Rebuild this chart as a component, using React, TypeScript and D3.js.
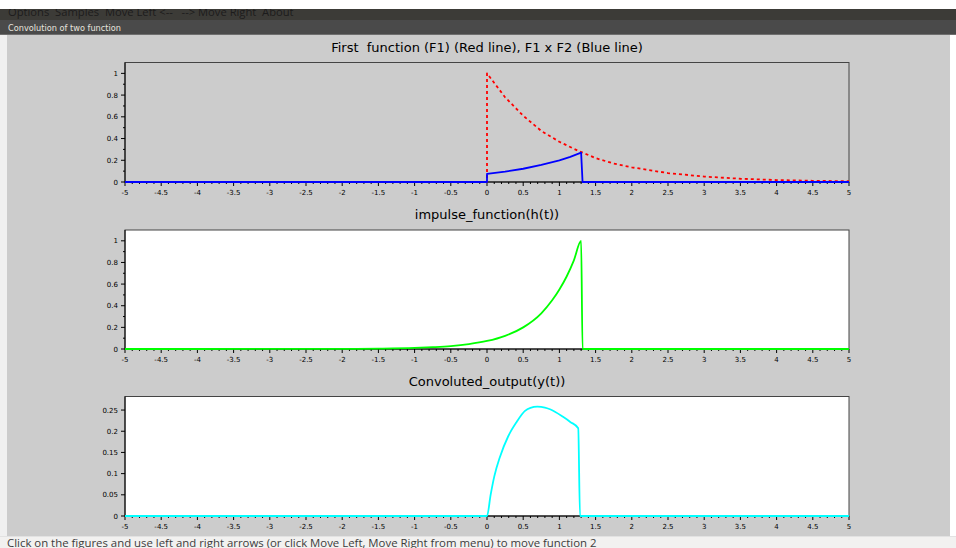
import React from "react";
import * as d3 from "d3";

// Shared time axis
const xTicks = [-5, -4.5, -4, -3.5, -3, -2.5, -2, -1.5, -1, -0.5, 0, 0.5, 1, 1.5, 2, 2.5, 3, 3.5, 4, 4.5, 5];
const xTickLabels = ["-5", "-4.5", "-4", "-3.5", "-3", "-2.5", "-2", "-1.5", "-1", "-0.5", "0", "0.5", "1", "1.5", "2", "2.5", "3", "3.5", "4", "4.5", "5"];

// Y ticks for each panel
const yTicksUnit = [0, 0.2, 0.4, 0.6, 0.8, 1];
const yTickLabelsUnit = ["0", "0.2", "0.4", "0.6", "0.8", "1"];
const yTicksConv = [0, 0.05, 0.1, 0.15, 0.2, 0.25];
const yTickLabelsConv = ["0", "0.05", "0.1", "0.15", "0.2", "0.25"];

// First function F1 (red dotted)
const f1T = [-5, 0, 0, 0.25, 0.5, 0.75, 1, 1.25, 1.5, 1.75, 2, 2.5, 3, 3.5, 4, 4.5, 5];
const f1V = [0, 0, 1, 0.78, 0.61, 0.47, 0.37, 0.29, 0.22, 0.17, 0.135, 0.082, 0.05, 0.03, 0.018, 0.011, 0.007];

// Product F1 x F2 (blue)
const prodT = [-5, 0, 0, 0.25, 0.5, 0.75, 1, 1.15, 1.3, 1.32, 5];
const prodV = [0, 0, 0.074, 0.095, 0.122, 0.157, 0.2, 0.232, 0.27, 0, 0];

// Impulse function h(t) (green)
const impT = [-5, -3, -2.5, -2, -1.5, -1, -0.75, -0.5, -0.25, 0, 0.25, 0.5, 0.75, 0.9, 1.0, 1.1, 1.2, 1.3, 1.32, 5];
const impV = [0, 0.0003, 0.0007, 0.0014, 0.0037, 0.01, 0.017, 0.027, 0.045, 0.074, 0.122, 0.2, 0.33, 0.45, 0.55, 0.67, 0.82, 1.0, 0, 0];

// Convoluted output y(t) (cyan)
const convT = [-5, 0, 0.05, 0.1, 0.18, 0.29, 0.41, 0.525, 0.6, 0.695, 0.8, 0.87, 1.05, 1.15, 1.26, 1.285, 5];
const convV = [0, 0, 0.05, 0.093, 0.14, 0.187, 0.222, 0.248, 0.255, 0.258, 0.256, 0.252, 0.234, 0.222, 0.207, 0, 0];

const W = 956;
const H = 548;
const PLOT_LEFT = 125;
const PLOT_RIGHT = 849;
const AXIS_FONT = "DejaVu Sans";

type Series = { t: number[]; v: number[]; color: string; dash?: string; width: number; smooth?: boolean };

type PanelProps = {
  title: string;
  top: number;
  bottom: number;
  yMax: number;
  yTicks: number[];
  yLabels: string[];
  yMinor: number[];
  bg: string;
  series: Series[];
};

function Panel({ title, top, bottom, yMax, yTicks, yLabels, yMinor, bg, series }: PanelProps) {
  const x = d3.scaleLinear().domain([-5, 5]).range([PLOT_LEFT, PLOT_RIGHT]);
  const y = d3.scaleLinear().domain([0, yMax]).range([bottom, top]);
  const xMinor = d3.range(-50, 51).map((i) => i / 10).filter((v) => Math.abs(Math.round(v * 2) - v * 2) > 1e-6);

  return (
    <g>
      <text
        x={(PLOT_LEFT + PLOT_RIGHT) / 2}
        y={top - 11}
        textAnchor="middle"
        fontFamily={AXIS_FONT}
        fontSize={13}
        fill="#000"
        style={{ whiteSpace: "pre" }}
      >
        {title}
      </text>
      <rect x={PLOT_LEFT} y={top} width={PLOT_RIGHT - PLOT_LEFT} height={bottom - top} fill={bg} stroke="#444" strokeWidth={1} />
      {/* x axis ticks */}
      {xTicks.map((v, i) => (
        <g key={"xt" + i}>
          <line x1={x(v)} x2={x(v)} y1={bottom} y2={bottom + 4} stroke="#000" strokeWidth={1} />
          <text x={x(v)} y={bottom + 13} textAnchor="middle" fontFamily={AXIS_FONT} fontSize={7} fill="#000">
            {xTickLabels[i]}
          </text>
        </g>
      ))}
      {xMinor.map((v, i) => (
        <line key={"xm" + i} x1={x(v)} x2={x(v)} y1={bottom} y2={bottom + 2} stroke="#000" strokeWidth={1} />
      ))}
      {/* y axis ticks */}
      {yTicks.map((v, i) => (
        <g key={"yt" + i}>
          <line x1={PLOT_LEFT - 4} x2={PLOT_LEFT} y1={y(v)} y2={y(v)} stroke="#000" strokeWidth={1} />
          <text x={PLOT_LEFT - 7} y={y(v) + 2.5} textAnchor="end" fontFamily={AXIS_FONT} fontSize={7} fill="#000">
            {yLabels[i]}
          </text>
        </g>
      ))}
      {yMinor.map((v, i) => (
        <line key={"ym" + i} x1={PLOT_LEFT - 2} x2={PLOT_LEFT} y1={y(v)} y2={y(v)} stroke="#000" strokeWidth={1} />
      ))}
      <line x1={PLOT_LEFT} x2={PLOT_LEFT} y1={top} y2={bottom} stroke="#000" strokeWidth={1} />
      <line x1={PLOT_LEFT} x2={PLOT_RIGHT} y1={bottom} y2={bottom} stroke="#000" strokeWidth={1} />
      {series.map((s, k) => {
        const pts = s.t.map((t, i) => [t, s.v[i]] as [number, number]);
        const gen = d3
          .line<[number, number]>()
          .x((d) => x(d[0]))
          .y((d) => y(d[1]))
          .curve(s.smooth ? d3.curveMonotoneX : d3.curveLinear);
        return (
          <path
            key={"s" + k}
            d={gen(pts) || ""}
            fill="none"
            stroke={s.color}
            strokeWidth={s.width}
            strokeDasharray={s.dash}
            strokeLinejoin="round"
          />
        );
      })}
    </g>
  );
}

export default function App() {
  return (
    <div style={{ position: "fixed", left: 0, top: 0, width: W, height: H }}>
      <svg width={W} height={H} viewBox={`0 0 ${W} ${H}`} style={{ display: "block" }}>
        <rect x={0} y={0} width={W} height={H} fill="#ffffff" />
        <defs>
          <clipPath id="menuClip">
            <rect x={0} y={9} width={W} height={11} />
          </clipPath>
        </defs>
        {/* window menu bar */}
        <rect x={0} y={9} width={W} height={11} fill="#3c3b37" />
        <text
          x={8}
          y={15.5}
          fontFamily="Open Sans"
          fontSize={11.2}
          fill="#1c1c1c"
          clipPath="url(#menuClip)"
          style={{ whiteSpace: "pre" }}
        >
          {"Options  Samples  Move Left <--   --> Move Right  About"}
        </text>
        <rect x={0} y={20} width={W} height={14} fill="#4a4a4a" />
        <text x={8} y={31} fontFamily="DejaVu Sans" fontSize={8.2} fill="#e6e3de">
          Convolution of two function
        </text>
        <rect x={0} y={34} width={W} height={1} fill="#6e6e6e" />
        {/* figure area */}
        <rect x={0} y={35} width={W} height={501} fill="#f0f0f0" />
        <rect x={7} y={35} width={943} height={501} fill="#cccccc" />
        <rect x={950} y={35} width={6} height={501} fill="#ffffff" />

        <Panel
          title={"First  function (F1) (Red line), F1 x F2 (Blue line)"}
          top={62.5}
          bottom={182}
          yMax={1.1}
          yTicks={yTicksUnit}
          yLabels={yTickLabelsUnit}
          yMinor={[0.1, 0.3, 0.5, 0.7, 0.9]}
          bg="#cccccc"
          series={[
            { t: f1T, v: f1V, color: "#ff0000", dash: "3,3", width: 1.8 },
            { t: prodT, v: prodV, color: "#0000ff", width: 1.8 },
          ]}
        />
        <Panel
          title="impulse_function(h(t))"
          top={230}
          bottom={349}
          yMax={1.1}
          yTicks={yTicksUnit}
          yLabels={yTickLabelsUnit}
          yMinor={[0.1, 0.3, 0.5, 0.7, 0.9]}
          bg="#ffffff"
          series={[{ t: impT, v: impV, color: "#00ff00", width: 1.8, smooth: true }]}
        />
        <Panel
          title="Convoluted_output(y(t))"
          top={396.5}
          bottom={516}
          yMax={0.282}
          yTicks={yTicksConv}
          yLabels={yTickLabelsConv}
          yMinor={[]}
          bg="#ffffff"
          series={[{ t: convT, v: convV, color: "#00ffff", width: 1.8, smooth: true }]}
        />

        {/* status bar */}
        <rect x={0} y={536} width={W} height={1} fill="#e2e2e2" />
        <rect x={0} y={537} width={W} height={11} fill="#f2f1f0" />
        <text x={7} y={546.5} fontFamily="Open Sans" fontSize={11.4} fill="#3c3c3c">
          Click on the figures and use left and right arrows (or click Move Left, Move Right from menu) to move function 2
        </text>
      </svg>
    </div>
  );
}
